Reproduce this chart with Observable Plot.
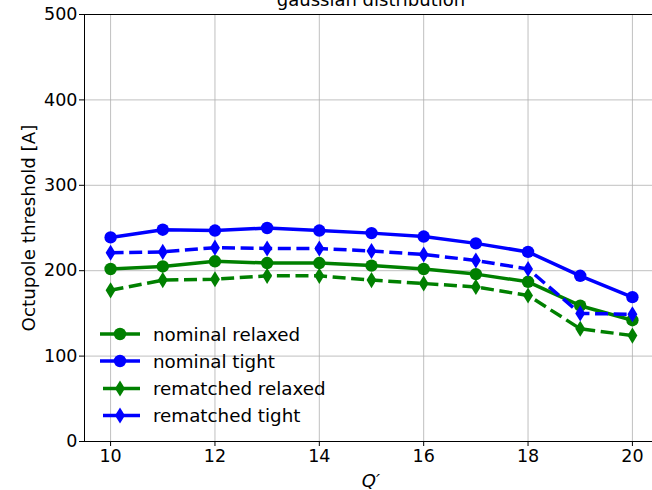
<!DOCTYPE html>
<html>
<head>
<meta charset="utf-8">
<script src="https://cdn.jsdelivr.net/npm/d3@7"></script>
<script src="https://cdn.jsdelivr.net/npm/@observablehq/plot@0.6"></script>
<style>
  html, body { margin: 0; padding: 0; background: #fff; }
  #chart { width: 652px; height: 490px; overflow: hidden; }
  svg { font-family: "DejaVu Sans", sans-serif; }
</style>
</head>
<body>
<div id="chart"></div>
<script>
const qPrime = [10, 11, 12, 13, 14, 15, 16, 17, 18, 19, 20];
const nominalRelaxed   = [202, 205, 211, 209, 209, 206, 202, 196, 187, 159, 142];
const nominalTight     = [239, 248, 247, 250, 247, 244, 240, 232, 222, 194, 169];
const rematchedRelaxed = [177, 189, 190, 194, 194, 189, 185, 181, 171, 132, 124];
const rematchedTight   = [221, 222, 227, 226, 226, 223, 219, 212, 202, 150, 149];
const xTicks = [10, 12, 14, 16, 18, 20];
const yTicks = [0, 100, 200, 300, 400, 500];

const series = [
  {name: "nominal relaxed", values: nominalRelaxed, color: "#008000", dashed: false, marker: "circle"},
  {name: "nominal tight", values: nominalTight, color: "#0000ff", dashed: false, marker: "circle"},
  {name: "rematched relaxed", values: rematchedRelaxed, color: "#008000", dashed: true, marker: "thin"},
  {name: "rematched tight", values: rematchedTight, color: "#0000ff", dashed: true, marker: "thin"}
];

// matplotlib 'd' thin diamond
const thinDiamond = {
  draw(context, size) {
    const r = Math.sqrt(size / Math.PI);
    const h = r * 1.3, w = r * 0.8;
    context.moveTo(0, -h);
    context.lineTo(w, 0);
    context.lineTo(0, h);
    context.lineTo(-w, 0);
    context.closePath();
  }
};

const marks = [
  Plot.gridX(xTicks, {stroke: "#b0b0b0", strokeOpacity: 1, strokeWidth: 0.8}),
  Plot.gridY(yTicks, {stroke: "#b0b0b0", strokeOpacity: 1, strokeWidth: 0.8}),
  Plot.axisX(xTicks, {tickSize: 5, tickPadding: 3, fontSize: 17.5, label: null, stroke: "#000"}),
  Plot.axisY(yTicks, {tickSize: 5, tickPadding: 2, fontSize: 17.5, label: null, stroke: "#000"})
];
for (const s of series) {
  const data = qPrime.map((q, i) => ({q, v: s.values[i]}));
  marks.push(Plot.line(data, {
    x: "q", y: "v", stroke: s.color, strokeWidth: 3.5,
    strokeDasharray: s.dashed ? "13,5.6" : null,
    strokeLinecap: s.dashed ? "butt" : "square",
    strokeLinejoin: "round"
  }));
  marks.push(Plot.dot(data, {
    x: "q", y: "v", fill: s.color, stroke: "none",
    r: 6.2,
    symbol: s.marker === "circle" ? "circle" : thinDiamond
  }));
}
marks.push(Plot.ruleX([9.5], {stroke: "#000", strokeWidth: 1}));
marks.push(Plot.ruleY([0, 500], {stroke: "#000", strokeWidth: 1}));

const plot = Plot.plot({
  width: 652,
  height: 490,
  marginTop: 14,
  marginBottom: 49,
  marginLeft: 84,
  marginRight: 0,
  x: {domain: [9.5, 20.5], range: [84, 658]},
  y: {domain: [0, 500]},
  style: {fontFamily: "DejaVu Sans, sans-serif", color: "#000", background: "#fff"},
  marks
});
document.getElementById("chart").appendChild(plot);

// titles and labels
const svg = d3.select(plot);
svg.append("text").attr("x", 371).attr("y", 6).attr("text-anchor", "middle")
  .attr("font-size", 18).attr("fill", "#000").text("gaussian distribution");
svg.append("text").attr("transform", "translate(28,228) rotate(-90)")
  .attr("text-anchor", "middle").attr("dominant-baseline", "central")
  .attr("font-size", 18.3).attr("fill", "#000").text("Octupole threshold [A]");
const xl = svg.append("text").attr("x", 371).attr("y", 487).attr("text-anchor", "middle")
  .attr("font-size", 18).attr("fill", "#000");
xl.append("tspan").attr("font-style", "italic").text("Q");
xl.append("tspan").attr("font-style", "italic").text("′");

// legend
const legendY = [334, 361, 388.5, 415.5];
series.forEach((s, i) => {
  const g = svg.append("g").attr("transform", `translate(0,${legendY[i]})`);
  g.append("line").attr("x1", s.marker === "circle" ? 100 : 103).attr("x2", 140)
    .attr("y1", 0).attr("y2", 0).attr("stroke", s.color).attr("stroke-width", 3.5);
  const sym = s.marker === "circle" ? d3.symbolCircle : thinDiamond;
  g.append("path").attr("transform", "translate(120,0)")
    .attr("d", d3.symbol(sym, 6.2 * 6.2 * Math.PI)()).attr("fill", s.color);
  g.append("text").attr("x", 153).attr("y", 0).attr("text-anchor", "start")
    .attr("dominant-baseline", "central")
    .attr("font-size", 18.3).attr("fill", "#000").text(s.name);
});
</script>
</body>
</html>
